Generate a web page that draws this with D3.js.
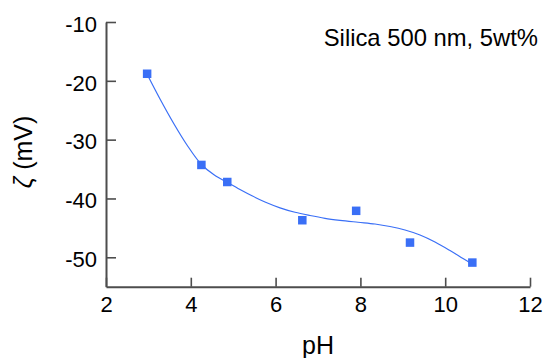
<!DOCTYPE html>
<html>
<head>
<meta charset="utf-8">
<script src="https://cdn.jsdelivr.net/npm/d3@7"></script>
<style>
  html, body { margin: 0; padding: 0; background: #fff; }
  svg { display: block; font-family: "Liberation Sans", Arial, Helvetica, sans-serif; }
</style>
</head>
<body>
<svg id="chart" width="545" height="358"></svg>
<script>
// Measured data points
const pH = [2.97, 4.25, 4.86, 6.63, 7.90, 9.17, 10.64];
const zeta = [-18.8, -34.3, -37.2, -43.7, -42.1, -47.5, -50.9];

// Fitted curve
const curvePH = [2.967, 3.274, 3.604, 3.910, 4.241, 4.547, 4.877, 5.160, 5.443, 5.750, 6.104, 6.458, 6.811, 7.165, 7.519, 7.943, 8.344, 8.698, 9.052, 9.406, 9.759, 10.113, 10.420, 10.632];
const curveZeta = [-18.84, -23.09, -27.34, -30.91, -34.14, -35.98, -37.34, -38.48, -39.55, -40.60, -41.59, -42.35, -42.90, -43.37, -43.71, -44.04, -44.34, -44.77, -45.36, -46.21, -47.40, -48.85, -50.21, -51.14];

const xTicks = [2, 4, 6, 8, 10, 12];
const yTicks = [-50, -40, -30, -20, -10];
const title = "Silica 500 nm, 5wt%";
const xLabel = "pH";

const svg = d3.select("#chart");
const x = d3.scaleLinear().domain([2, 12]).range([106, 530]);
const y = d3.scaleLinear().domain([-55, -10]).range([286.7, 22]);

const axisColor = "#4d4d4d";
const blue = "#3a6ff6";

// X axis
const gx = svg.append("g").attr("transform", `translate(0,${y(-55)})`)
  .call(d3.axisBottom(x).tickValues(xTicks).tickSize(-9).tickSizeOuter(0).tickPadding(10).tickFormat(d3.format("d")));
// Y axis
const gy = svg.append("g").attr("transform", `translate(${x(2)},0)`)
  .call(d3.axisLeft(y).tickValues(yTicks).tickSize(-10).tickSizeOuter(0).tickPadding(9).tickFormat(d3.format("d")));

[gx, gy].forEach(g => {
  g.select(".domain").attr("stroke", axisColor).attr("stroke-width", 2);
  g.selectAll(".tick line").attr("stroke", axisColor).attr("stroke-width", 1.6);
  g.selectAll(".tick text").attr("fill", "#000").attr("font-size", 22)
    .attr("font-family", "Liberation Sans, Arial, sans-serif");
});
gy.selectAll(".tick text").attr("dy", "0.42em").text(d => d < 0 ? "-" + Math.abs(d) : d);

// Curve
const line = d3.line().x((d, i) => x(curvePH[i])).y((d, i) => y(curveZeta[i])).curve(d3.curveCatmullRom);
svg.append("path").datum(curvePH).attr("d", line)
  .attr("fill", "none").attr("stroke", blue).attr("stroke-width", 1.2);

// Markers
const s = 8.5;
svg.append("g").selectAll("rect").data(pH).join("rect")
  .attr("x", (d) => x(d) - s / 2)
  .attr("y", (d, i) => y(zeta[i]) - s / 2)
  .attr("width", s).attr("height", s)
  .attr("fill", blue);

// Title
svg.append("text").attr("x", 538).attr("y", 46).attr("text-anchor", "end")
  .attr("font-size", 23.8).attr("fill", "#000").text(title);

// X label
svg.append("text").attr("x", 318).attr("y", 354).attr("text-anchor", "middle")
  .attr("font-size", 25).attr("fill", "#000").text(xLabel);

// Y label
const yl = svg.append("text").attr("transform", "translate(32,152) rotate(-90)")
  .attr("text-anchor", "middle").attr("font-size", 25).attr("fill", "#000");
yl.append("tspan").attr("font-style", "italic").text("ζ");
yl.append("tspan").text(" (mV)");
</script>
</body>
</html>
